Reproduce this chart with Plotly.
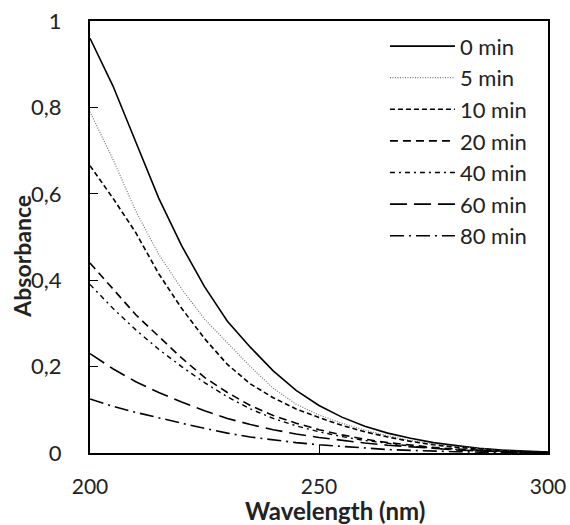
import plotly.graph_objects as go

# wavelength grid (nm)
wavelength = [200, 205, 210, 215, 220, 225, 230, 235, 240, 245, 250,
              255, 260, 265, 270, 275, 280, 285, 290, 295, 300]

abs_0 = [0.96, 0.85, 0.72, 0.59, 0.48, 0.385, 0.305, 0.245, 0.19, 0.145, 0.11,
         0.083, 0.062, 0.046, 0.034, 0.024, 0.017, 0.011, 0.007, 0.004, 0.002]
abs_5 = [0.79, 0.68, 0.56, 0.46, 0.38, 0.31, 0.255, 0.20, 0.15, 0.113, 0.088,
         0.069, 0.053, 0.040, 0.029, 0.021, 0.015, 0.010, 0.006, 0.004, 0.002]
abs_10 = [0.665, 0.59, 0.51, 0.415, 0.335, 0.265, 0.205, 0.16, 0.128, 0.102, 0.082,
          0.064, 0.049, 0.037, 0.027, 0.019, 0.013, 0.009, 0.006, 0.003, 0.002]
abs_20 = [0.44, 0.38, 0.32, 0.27, 0.22, 0.175, 0.14, 0.11, 0.087, 0.069, 0.054,
          0.042, 0.032, 0.024, 0.018, 0.013, 0.009, 0.006, 0.004, 0.002, 0.001]
abs_40 = [0.39, 0.335, 0.285, 0.24, 0.20, 0.163, 0.13, 0.102, 0.08, 0.063, 0.049,
          0.038, 0.029, 0.022, 0.016, 0.011, 0.008, 0.005, 0.003, 0.002, 0.001]
abs_60 = [0.23, 0.195, 0.165, 0.14, 0.118, 0.098, 0.08, 0.066, 0.054, 0.044, 0.036,
          0.029, 0.023, 0.018, 0.014, 0.010, 0.007, 0.005, 0.003, 0.002, 0.001]
abs_80 = [0.125, 0.108, 0.094, 0.081, 0.069, 0.057, 0.046, 0.037, 0.030, 0.024, 0.019,
          0.015, 0.011, 0.008, 0.006, 0.004, 0.003, 0.002, 0.001, 0.001, 0.0]

series = [
    ("0 min", abs_0, "black", "solid", 1.6),
    ("5 min", abs_5, "#777777", "1px,1.5px", 1.2),
    ("10 min", abs_10, "black", "5px,3px", 1.6),
    ("20 min", abs_20, "black", "8px,5px", 1.6),
    ("40 min", abs_40, "black", "5px,4px,2px,4px", 1.4),
    ("60 min", abs_60, "black", "17px,7px", 1.6),
    ("80 min", abs_80, "black", "14px,5px,2px,5px", 1.6),
]

font = "Lato, 'Open Sans', sans-serif"
ink = "#222222"

fig = go.Figure()
for name, y, color, dash, w in series:
    fig.add_trace(go.Scatter(x=wavelength, y=y, mode="lines", name=name,
                             line=dict(color=color, dash=dash, width=w)))

fig.update_layout(
    width=570, height=525,
    margin=dict(l=90, r=22, t=21, b=72),
    plot_bgcolor="white", paper_bgcolor="white",
    separators=",.",
    font=dict(family=font, size=22, color=ink),
    showlegend=True,
    legend=dict(x=0.644, y=0.99, xanchor="left", yanchor="top",
                bgcolor="rgba(0,0,0,0)", font=dict(size=22),
                itemwidth=65, tracegroupgap=0),
    annotations=[
        dict(text="<b>Absorbance</b>", xref="paper", yref="paper",
             x=-0.148, y=0.455, textangle=-90, showarrow=False,
             xanchor="center", yanchor="middle",
             font=dict(size=23, family=font, color=ink)),
        dict(text="<b>Wavelength (nm)</b>", xref="paper", yref="paper",
             x=0.535, y=-0.134, showarrow=False,
             xanchor="center", yanchor="middle",
             font=dict(size=24, family=font, color=ink)),
    ],
)
fig.update_xaxes(range=[200, 300], tickvals=[200, 250, 300], automargin=False,
                 showline=True, mirror=True, linecolor="black", linewidth=2,
                 ticks="inside", ticklen=8, tickcolor="black",
                 showgrid=False, zeroline=False, ticklabelstandoff=14,
                 ticklabeloverflow="allow", tickfont=dict(size=21))
fig.update_yaxes(range=[0, 1], tickvals=[0, 0.2, 0.4, 0.6, 0.8, 1], automargin=False,
                 showline=True, mirror=True, linecolor="black", linewidth=2,
                 ticks="inside", ticklen=8, tickcolor="black",
                 showgrid=False, zeroline=False, ticklabelstandoff=22,
                 ticklabeloverflow="allow")

# drop the default body margin so the figure fills the window exactly
fig.write_html("out.html", config={"displayModeBar": False},
               post_script="document.body.style.margin='0';")
